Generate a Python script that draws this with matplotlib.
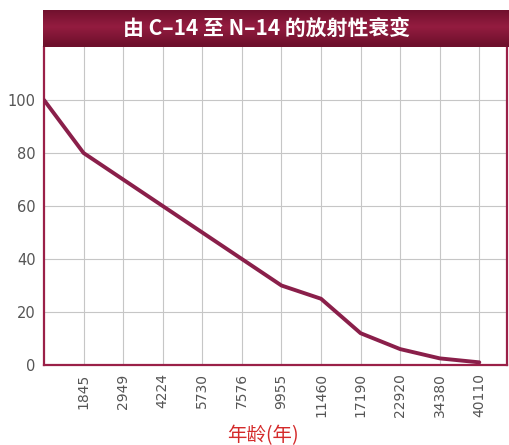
import matplotlib
matplotlib.use("Agg")
import matplotlib.pyplot as plt
import numpy as np

plt.rcParams['font.family'] = ['Noto Sans CJK SC', 'DejaVu Sans']

ages = ["0", "1845", "2949", "4224", "5730", "7576", "9955", "11460", "17190", "22920", "34380", "40110"]
percent = [100, 80, 70, 60, 50, 40, 30, 25, 12, 6, 2.5, 1]
yticks = [0, 20, 40, 60, 80, 100]

W, H = 509, 445
fig = plt.figure(figsize=(W / 100, H / 100), dpi=100)
ax = fig.add_axes([44 / W, 1 - 365 / H, (507 - 44) / W, (365 - 47) / H])

x = np.arange(len(ages))
ax.plot(x, percent, color="#8a1f4a", lw=2.8, solid_joinstyle="round", solid_capstyle="round", zorder=3)

ax.set_xlim(0, 11.7)
ax.set_ylim(0, 120)
ax.set_xticks(x[1:])
ax.set_xticklabels(ages[1:], rotation=90, color="#555555", fontsize=10, family=["DejaVu Sans"])
ax.set_yticks(yticks)
ax.set_yticklabels([str(v) for v in yticks], color="#555555", fontsize=10.5, family=["DejaVu Sans"])
ax.tick_params(length=0, pad=6)
ax.grid(True, color="#c6c6c6", lw=0.8)
ax.set_axisbelow(True)

for s in ["left", "bottom", "right"]:
    ax.spines[s].set_color("#9a2048")
    ax.spines[s].set_linewidth(1.6)
ax.spines["top"].set_visible(False)

ax.set_xlabel("年龄(年)", color="#d42a2a", fontsize=14, labelpad=4)
ax.xaxis.set_label_coords((263 - 44) / (507 - 44), -0.19)

# Title band with vertical gradient
bax = fig.add_axes([43 / W, 1 - 47 / H, 1 - 43 / W, 37 / H])
bax.set_axis_off()
top = np.array([0x6e, 0x10, 0x2c]) / 255
mid = np.array([0x94, 0x1c, 0x40]) / 255
t = np.linspace(0, 1, 40)[:, None]
wgt = 1 - np.abs(t - 0.45) * 2
wgt = np.clip(wgt, 0, 1)[:, :, None]
grad = top[None, None, :] * (1 - wgt) + mid[None, None, :] * wgt
grad = np.repeat(grad, 2, axis=1)
bax.imshow(grad, aspect="auto", extent=[0, 1, 0, 1], origin="upper")
bax.text(0.48, 0.5, "由 C–14 至 N–14 的放射性衰变", color="white", fontsize=15,
         fontweight="bold", ha="center", va="center", transform=bax.transAxes)

fig.savefig("out.png", dpi=100)
